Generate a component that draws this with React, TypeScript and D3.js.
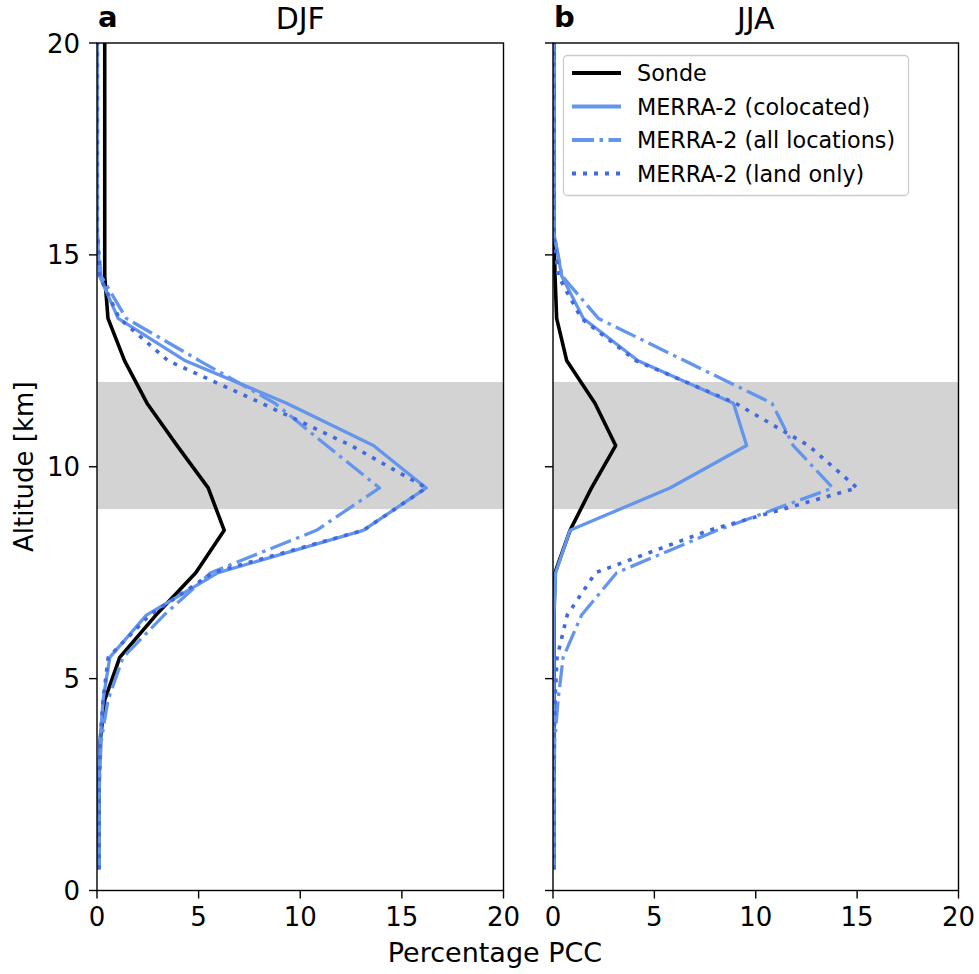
import React from "react";
import * as d3 from "d3";

// Altitude levels (km)
const levels = [0.5, 1.5, 2.5, 3.5, 4.5, 5.5, 6.5, 7.5, 8.5, 9.5, 10.5, 11.5, 12.5, 13.5, 14.5, 15.5, 16.5, 17.5, 18.5, 19.5, 20.5];

// DJF series (Percentage PCC)
const djfSonde = [0.08, 0.08, 0.1, 0.15, 0.38, 1.12, 2.9, 4.86, 6.26, 5.47, 3.94, 2.46, 1.36, 0.54, 0.38, 0.38, 0.38, 0.38, 0.38, 0.38, 0.38];
const djfColocated = [0.1, 0.1, 0.1, 0.15, 0.3, 0.63, 2.43, 5.96, 13.1, 16.2, 13.6, 9.33, 4.35, 1.04, 0.13, 0.02, 0.02, 0.02, 0.02, 0.02, 0.02];
const djfAll = [0.1, 0.1, 0.12, 0.2, 0.54, 1.28, 3.3, 5.6, 10.8, 13.9, 11.3, 8.75, 5.05, 1.44, 0.2, 0.02, 0.02, 0.02, 0.02, 0.02, 0.02];
const djfLand = [0.1, 0.1, 0.1, 0.15, 0.3, 0.55, 2.6, 5.7, 13.1, 16.2, 12.5, 8.1, 3.5, 1.1, 0.13, 0.02, 0.02, 0.02, 0.02, 0.02, 0.02];

// JJA series (Percentage PCC)
const jjaSonde = [0.05, 0.05, 0.05, 0.05, 0.05, 0.05, 0.05, 0.1, 0.84, 1.9, 3.09, 2.07, 0.68, 0.18, 0.1, 0.05, 0.05, 0.05, 0.05, 0.05, 0.05];
const jjaColocated = [0.05, 0.05, 0.05, 0.05, 0.05, 0.05, 0.05, 0.13, 0.84, 5.77, 9.55, 8.9, 4.2, 1.5, 0.43, 0.05, 0.05, 0.05, 0.05, 0.05, 0.05];
const jjaAll = [0.05, 0.05, 0.06, 0.08, 0.25, 0.5, 1.41, 3.14, 8.1, 13.8, 11.85, 10.8, 6.5, 2.24, 0.45, 0.05, 0.05, 0.05, 0.05, 0.05, 0.05];
const jjaLand = [0.05, 0.05, 0.05, 0.05, 0.1, 0.2, 0.7, 2.1, 7.7, 15.0, 12.6, 9.0, 4.1, 1.4, 0.26, 0.03, 0.03, 0.03, 0.03, 0.03, 0.03];

const xTicks = [0, 5, 10, 15, 20];
const yTicks = [0, 5, 10, 15, 20];
const bandRange = [9, 12];

const seriesNames = ["Sonde", "MERRA-2 (colocated)", "MERRA-2 (all locations)", "MERRA-2 (land only)"];
const panelTitles = ["DJF", "JJA"];
const panelLetters = ["a", "b"];

const FONT = "DejaVu Sans, sans-serif";

const styles = [
  { color: "#000000", width: 3.6, dash: null as string | null },
  { color: "#6495ED", width: 3.3, dash: null as string | null },
  { color: "#6495ED", width: 3.3, dash: "22,5.5,3.5,5.5" },
  { color: "#4169E1", width: 3.6, dash: "4,7" },
];

const top = 43;
const bottom = 890.5;
const panels = [
  { x0: 97, x1: 503.5, data: [djfSonde, djfColocated, djfAll, djfLand] },
  { x0: 553, x1: 958.5, data: [jjaSonde, jjaColocated, jjaAll, jjaLand] },
];

const yScale = d3.scaleLinear().domain([0, 20]).range([bottom, top]);

export default function App() {
  return (
    <svg width={979} height={974} style={{ position: "absolute", left: 0, top: 0, background: "#fff" }} fontFamily={FONT}>
      <rect x={0} y={0} width={979} height={974} fill="#fff" />
      {panels.map((p, pi) => {
        const xScale = d3.scaleLinear().domain([0, 20]).range([p.x0, p.x1]);
        const line = d3
          .line<number>()
          .x((v) => xScale(v))
          .y((_, i) => yScale(levels[i]));
        const clipId = `clip${pi}`;
        return (
          <g key={pi}>
            <defs>
              <clipPath id={clipId}>
                <rect x={p.x0} y={top} width={p.x1 - p.x0} height={bottom - top} />
              </clipPath>
            </defs>
            <rect
              x={p.x0}
              y={yScale(bandRange[1])}
              width={p.x1 - p.x0}
              height={yScale(bandRange[0]) - yScale(bandRange[1])}
              fill="#d3d3d3"
            />
            <g clipPath={`url(#${clipId})`}>
              {p.data.map((s, si) => (
                <path
                  key={si}
                  d={line(s) || ""}
                  fill="none"
                  stroke={styles[si].color}
                  strokeWidth={styles[si].width}
                  strokeDasharray={styles[si].dash || undefined}
                  strokeLinejoin="round"
                />
              ))}
            </g>
            <rect x={p.x0} y={top} width={p.x1 - p.x0} height={bottom - top} fill="none" stroke="#000" strokeWidth={1.4} />
            {xTicks.map((t) => (
              <g key={"x" + t}>
                <line x1={xScale(t)} x2={xScale(t)} y1={bottom} y2={bottom + 8} stroke="#000" strokeWidth={1.4} />
                <text x={xScale(t)} y={926} fontSize={26} textAnchor="middle" fill="#000">
                  {t}
                </text>
              </g>
            ))}
            {yTicks.map((t) => (
              <g key={"y" + t}>
                <line x1={p.x0 - 8} x2={p.x0} y1={yScale(t)} y2={yScale(t)} stroke="#000" strokeWidth={1.4} />
                {pi === 0 && (
                  <text x={80} y={yScale(t) + 9.5} fontSize={26} textAnchor="end" fill="#000">
                    {t}
                  </text>
                )}
              </g>
            ))}
            <text x={p.x0 + 1} y={27} fontSize={29} fontWeight="bold" fill="#000">
              {panelLetters[pi]}
            </text>
            <text x={(p.x0 + p.x1) / 2} y={29} fontSize={30} textAnchor="middle" fill="#000">
              {panelTitles[pi]}
            </text>
          </g>
        );
      })}
      <text x={495} y={962} fontSize={27} textAnchor="middle" fill="#000">
        Percentage PCC
      </text>
      <text transform={`translate(33,${(top + bottom) / 2}) rotate(-90)`} fontSize={26} textAnchor="middle" fill="#000">
        Altitude [km]
      </text>
      {/* Legend */}
      <g>
        <rect x={563.5} y={55.5} width={345} height={140} rx={4} fill="#fff" fillOpacity={0.8} stroke="#cccccc" strokeWidth={1.3} />
        {seriesNames.map((name, i) => {
          const cy = 73 + i * 33.5;
          return (
            <g key={name}>
              <line
                x1={572}
                x2={621}
                y1={cy}
                y2={cy}
                stroke={styles[i].color}
                strokeWidth={styles[i].width + 0.6}
                strokeDasharray={styles[i].dash || undefined}
              />
              <text x={637} y={cy + 8} fontSize={22.3} fill="#000">
                {name}
              </text>
            </g>
          );
        })}
      </g>
    </svg>
  );
}
